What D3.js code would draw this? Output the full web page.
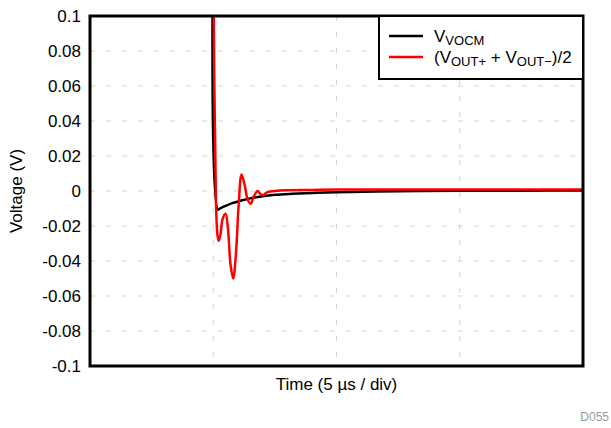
<!DOCTYPE html>
<html>
<head>
<meta charset="utf-8">
<script src="https://cdn.jsdelivr.net/npm/d3@7"></script>
<style>
	body { margin:0; background:#fff; }
	svg { font-family: "Liberation Sans", Arial, sans-serif; }
</style>
</head>
<body>
<svg width="611" height="428"></svg>
<script>
	// DATA (time in us, voltage in V)
	var yTicks = [0.1, 0.08, 0.06, 0.04, 0.02, 0, -0.02, -0.04, -0.06, -0.08, -0.1];
	var yTickLabels = ['0.1', '0.08', '0.06', '0.04', '0.02', '0', '-0.02', '-0.04', '-0.06', '-0.08', '-0.1'];
	var xGrid = [5, 10, 15];

	var vocmTime = [4.98, 5.19, 5.3, 5.5, 5.8, 6.1, 6.5, 7.0, 7.5, 8.2, 9, 10, 12.5, 15, 17.5, 20];
	var vocmValue = [0.12, -0.0106, -0.0098, -0.0085, -0.0068, -0.0056, -0.0042, -0.003, -0.0022, -0.0016, -0.0011, -0.0007, -0.0001, 0.0001, 0.0002, 0.0003];

	var outTime = [5.0, 5.11, 5.17, 5.22, 5.29, 5.38, 5.5, 5.6, 5.7, 5.81, 5.92, 6.03, 6.15, 6.28, 6.4, 6.52, 6.65, 6.8, 6.92, 7.03, 7.15, 7.3, 7.6, 8, 9, 10, 12, 15, 17.5, 20];
	var outValue = [0.13, -0.006, -0.025, -0.0285, -0.025, -0.016, -0.013, -0.022, -0.042, -0.050, -0.036, -0.008, 0.0095, 0.003, -0.005, -0.0073, -0.003, 0.0, -0.0018, -0.0024, -0.001, -0.0003, 0.0002, 0.0004, 0.0006, 0.0008, 0.0009, 0.0009, 0.0009, 0.0009];

	var margin = { top:16, left:90, right:28, bottom:62 };
	var width = 611 - margin.left - margin.right;
	var height = 428 - margin.top - margin.bottom;
	var fontSize = 17;

	var svg = d3.select('svg');
	var g = svg.append('g').attr('transform', 'translate(' + margin.left + ',' + margin.top + ')');

	var x = d3.scaleLinear().domain([0, 20]).range([0, width]);
	var y = d3.scaleLinear().domain([-0.1, 0.1]).range([height, 0]);

	// gridlines
	g.selectAll('.hgrid')
		.data(yTicks.filter(function(d) { return d > -0.1 && d < 0.1; }))
		.enter().append('line')
		.attr('x1', 0).attr('x2', width)
		.attr('y1', function(d) { return y(d); })
		.attr('y2', function(d) { return y(d); })
		.attr('stroke', '#d4d4d4')
		.attr('stroke-width', 1)
		.attr('stroke-dasharray', '5,11');

	g.selectAll('.vgrid')
		.data(xGrid)
		.enter().append('line')
		.attr('x1', function(d) { return x(d); })
		.attr('x2', function(d) { return x(d); })
		.attr('y1', 0).attr('y2', height)
		.attr('stroke', '#d4d4d4')
		.attr('stroke-width', 1)
		.attr('stroke-dasharray', '5,11');

	// y axis labels
	var yAxis = d3.axisLeft(y)
		.tickValues(yTicks)
		.tickSize(0)
		.tickPadding(9)
		.tickFormat(function(d, i) { return yTickLabels[i]; });

	var ya = g.append('g').call(yAxis);
	ya.select('.domain').remove();
	ya.selectAll('text')
		.attr('font-size', fontSize)
		.attr('font-family', '"Liberation Sans", Arial, sans-serif')
		.attr('fill', '#000');

	// clip
	svg.append('defs').append('clipPath').attr('id', 'plotclip')
		.append('rect').attr('width', width).attr('height', height);

	var line = d3.line()
		.x(function(d) { return x(d[0]); })
		.y(function(d) { return y(d[1]); })
		.curve(d3.curveCatmullRom.alpha(0.5));

	var vocm = vocmTime.map(function(t, i) { return [t, vocmValue[i]]; });
	var out = outTime.map(function(t, i) { return [t, outValue[i]]; });

	var lines = g.append('g').attr('clip-path', 'url(#plotclip)');
	lines.append('path').datum(vocm)
		.attr('d', line)
		.attr('fill', 'none')
		.attr('stroke', '#000')
		.attr('stroke-width', 2.5);
	lines.append('path').datum(out)
		.attr('d', line)
		.attr('fill', 'none')
		.attr('stroke', '#ff0000')
		.attr('stroke-width', 2.5);

	// frame
	g.append('rect')
		.attr('width', width).attr('height', height)
		.attr('fill', 'none')
		.attr('stroke', '#000')
		.attr('stroke-width', 3);

	// legend
	var lg = g.append('g').attr('transform', 'translate(' + (width - 204) + ',0)');
	lg.append('rect')
		.attr('width', 204).attr('height', 63)
		.attr('fill', '#fff')
		.attr('stroke', '#000')
		.attr('stroke-width', 2);
	var legendItems = [
		{ color:'#000', y:20 },
		{ color:'#ff0000', y:41 }
	];
	lg.selectAll('.lline').data(legendItems).enter().append('line')
		.attr('x1', 10).attr('x2', 44)
		.attr('y1', function(d) { return d.y; })
		.attr('y2', function(d) { return d.y; })
		.attr('stroke', function(d) { return d.color; })
		.attr('stroke-width', 2.5);

	var t1 = lg.append('text').attr('x', 55).attr('y', 26).attr('font-size', fontSize);
	t1.append('tspan').text('V');
	t1.append('tspan').attr('font-size', 13).attr('dy', 3).text('VOCM');

	var t2 = lg.append('text').attr('x', 55).attr('y', 47).attr('font-size', fontSize);
	t2.append('tspan').text('(V');
	t2.append('tspan').attr('font-size', 13).attr('dy', 3).text('OUT+');
	t2.append('tspan').attr('dy', -3).text(' + V');
	t2.append('tspan').attr('font-size', 13).attr('dy', 3).text('OUT\u2212');
	t2.append('tspan').attr('dy', -3).text(')/2');

	// axis titles
	svg.append('text')
		.attr('transform', 'translate(22,' + (margin.top + height / 2) + ')rotate(-90)')
		.attr('text-anchor', 'middle')
		.attr('font-size', fontSize)
		.text('Voltage (V)');

	svg.append('text')
		.attr('x', margin.left + width / 2)
		.attr('y', 390)
		.attr('text-anchor', 'middle')
		.attr('font-size', fontSize)
		.text('Time (5 \u00b5s / div)');

	svg.append('text')
		.attr('x', 609)
		.attr('y', 421)
		.attr('text-anchor', 'end')
		.attr('font-size', 12)
		.attr('fill', '#9a9a9a')
		.text('D055');
</script>
</body>
</html>
